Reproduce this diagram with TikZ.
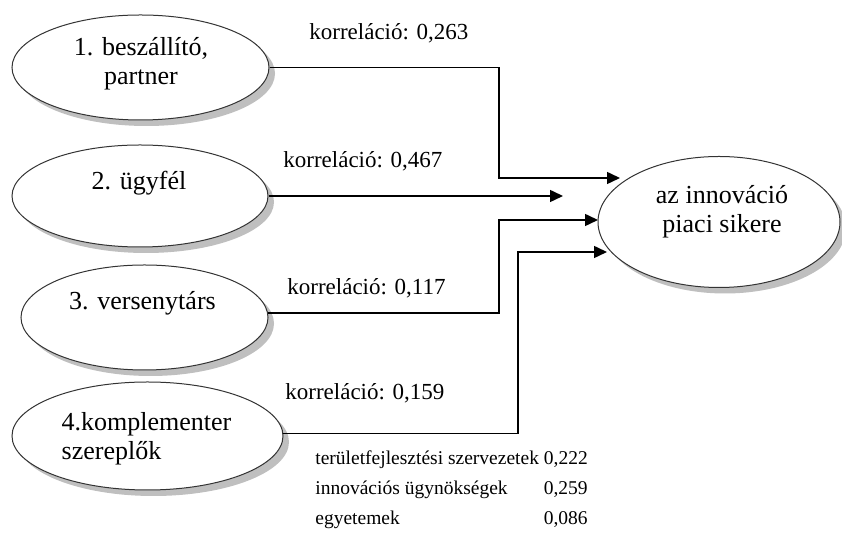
\documentclass[tikz,border=0pt]{standalone}
\usepackage{fontspec}
\setmainfont{Liberation Serif}
\usetikzlibrary{shapes.geometric,shadows,arrows.meta}
\tikzset{
	ell/.style={ellipse,draw=black!80,line width=0.5pt,fill=white,inner sep=0pt,
		drop shadow={shadow xshift=3pt,shadow yshift=-3pt,fill=black!25,opacity=1}},
	etext/.style={inner sep=0pt,align=center,font=\fontsize{13}{14.5}\selectfont},
	corr/.style={inner sep=0pt,anchor=base west,font=\fontsize{11.5}{13.8}\selectfont},
	conn/.style={line width=0.75pt,-{Triangle[length=6.5pt,width=6pt]}},
}

\begin{document}
\begin{tikzpicture}[x=0.5pt,y=-0.5pt]
	\useasboundingbox (0,0) rectangle (842,533);
	% ellipses
	\node (e1) at (140.5,67.5) [ell,minimum width=128.5pt,minimum height=52.5pt] {};
	\node (e2) at (140,196) [ell,minimum width=128pt,minimum height=51pt] {};
	\node (e3) at (144.5,317.5) [ell,minimum width=123.5pt,minimum height=52.5pt] {};
	\node (e4) at (147.5,436) [ell,minimum width=135.5pt,minimum height=54pt] {};
	\node (r) at (719,222) [ell,minimum width=121pt,minimum height=65.5pt] {};
	% base of a two-line node is its last line
	\node (t1) at (141,85) [etext,anchor=base] {1. beszállító,\\partner};
	\node (t2) at (139,190) [etext,anchor=base] {2. ügyfél};
	\node (t3) at (142.5,310) [etext,anchor=base] {3. versenytárs};
	\node (t4) at (146.5,460) [etext,anchor=base,align=left] {4.komplementer\\szereplők};
	\node (tr) at (722,233) [etext,anchor=base] {az innováció\\piaci sikere};
	% labels
	\node (c1) at (309,40) [corr] {korreláció: 0,263};
	\node (c2) at (283,168) [corr] {korreláció: 0,467};
	\node (c3) at (287,295) [corr] {korreláció: 0,117};
	\node (c4) at (285,400) [corr] {korreláció: 0,159};
	\node (tab) at (315,465) [inner sep=0pt,anchor=base west,font=\fontsize{9.75}{15}\selectfont]
		{\begin{tabular}[t]{@{}l@{\ }r@{}}
			területfejlesztési szervezetek & 0,222\\
			innovációs ügynökségek & 0,259\\
			egyetemek & 0,086
		\end{tabular}};
	% arrows
	\coordinate (k1) at (499,0);
	\coordinate (k2) at (518,0);
	\coordinate (a1) at (620,178);
	\coordinate (a2) at (563,196);
	\coordinate (a3) at (598,220);
	\coordinate (a4) at (607,252);
	\draw [conn] (e1.east) -| (k1 |- a1) -- (a1);
	\draw [conn] (e2.east) -- (a2);
	\draw [conn] (e3.2) -| (k1 |- a3) -- (a3);
	\draw [conn] (e4.1) -| (k2 |- a4) -- (a4);
\end{tikzpicture}
\end{document}
